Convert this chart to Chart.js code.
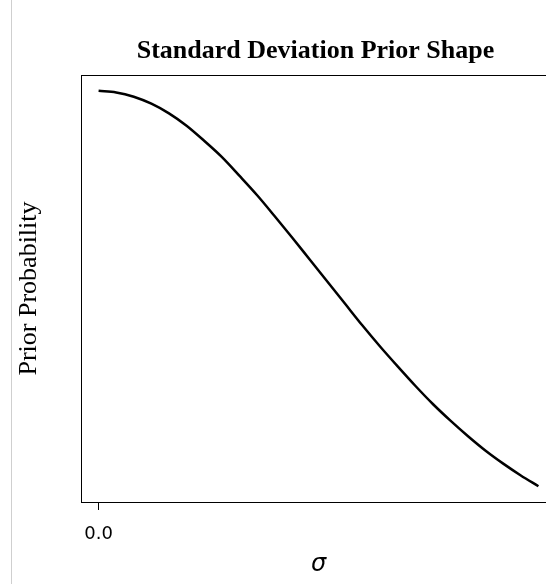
<!DOCTYPE html>
<html>
<head>
<meta charset="utf-8">
<script src="https://cdn.jsdelivr.net/npm/chart.js@4/dist/chart.umd.min.js"></script>
<style>
  html, body { margin: 0; padding: 0; background: #fff; overflow: hidden; }
  #wrap { position: relative; width: 580px; height: 584px; }
  #edge { position: absolute; left: 11px; top: 0; width: 1px; height: 584px; background: #cfcfcf; }
</style>
</head>
<body>
<div id="wrap">
  <canvas id="c" width="580" height="584"></canvas>
  <div id="edge"></div>
</div>
<script>
// Data
const sigmaValues = [0.0, 0.1, 0.2, 0.3, 0.4, 0.5, 0.6, 0.7, 0.8, 0.9, 1.0, 1.1, 1.2, 1.3, 1.4, 1.5, 1.6, 1.7, 1.8, 1.9, 2.0, 2.1, 2.2, 2.3, 2.4, 2.5];
const priorValues = [0.801, 0.798, 0.790, 0.777, 0.759, 0.736, 0.708, 0.678, 0.643, 0.607, 0.568, 0.528, 0.487, 0.446, 0.405, 0.364, 0.325, 0.288, 0.252, 0.218, 0.187, 0.158, 0.131, 0.107, 0.085, 0.065];
const xTickValues = [0];
const xTickLabels = ["0.0"];
const titleText = "Standard Deviation Prior Shape";
const xLabel = "σ";
const yLabel = "Prior Probability";

const points = sigmaValues.map((s, i) => ({ x: s, y: priorValues[i] }));

const boxAndText = {
  id: 'boxAndText',
  afterDraw(chart) {
    const ctx = chart.ctx;
    const a = chart.chartArea;
    ctx.save();
    ctx.strokeStyle = '#000';
    ctx.lineWidth = 1;
    ctx.strokeRect(Math.round(a.left) + 0.5, Math.round(a.top) + 0.5,
                   Math.round(a.right - a.left), Math.round(a.bottom - a.top));
    const cx = (a.left + a.right) / 2;
    ctx.fillStyle = '#000';
    ctx.textAlign = 'center';
    ctx.textBaseline = 'alphabetic';
    ctx.font = 'bold 26px "Liberation Serif"';
    ctx.fillText(titleText, cx - 3, 58);
    ctx.font = 'italic 24px "DejaVu Sans"';
    ctx.fillText(xLabel, cx, 571);
    ctx.translate(36, (a.top + a.bottom) / 2);
    ctx.rotate(-Math.PI / 2);
    ctx.font = '26px "Liberation Serif"';
    ctx.fillText(yLabel, 0, 0);
    ctx.restore();
  }
};

new Chart(document.getElementById('c'), {
  type: 'line',
  data: {
    datasets: [{
      data: points,
      borderColor: '#000',
      borderWidth: 2.5,
      pointRadius: 0,
      fill: false,
      cubicInterpolationMode: 'monotone'
    }]
  },
  options: {
    responsive: false,
    animation: false,
    events: [],
    layout: { padding: { left: 0, top: 75, right: 24, bottom: 0 } },
    plugins: { legend: { display: false }, title: { display: false }, tooltip: { enabled: false } },
    scales: {
      x: {
        type: 'linear',
        min: -0.1,
        max: 2.6,
        afterBuildTicks(scale) { scale.ticks = xTickValues.map(v => ({ value: v })); },
        afterFit(scale) { scale.height = 82; },
        border: { display: false },
        grid: { drawOnChartArea: false, drawTicks: true, tickLength: 8, color: '#000', lineWidth: 1 },
        ticks: {
          autoSkip: false,
          maxRotation: 0,
          padding: 14,
          color: '#000',
          font: { family: '"DejaVu Sans"', size: 18 },
          callback: (v) => { const i = xTickValues.indexOf(v); return i >= 0 ? xTickLabels[i] : ''; }
        }
      },
      y: {
        type: 'linear',
        min: 0.0356,
        max: 0.8304,
        afterFit(scale) { scale.width = 81; },
        border: { display: false },
        grid: { display: false },
        ticks: { display: false }
      }
    }
  },
  plugins: [boxAndText]
});
</script>
</body>
</html>
